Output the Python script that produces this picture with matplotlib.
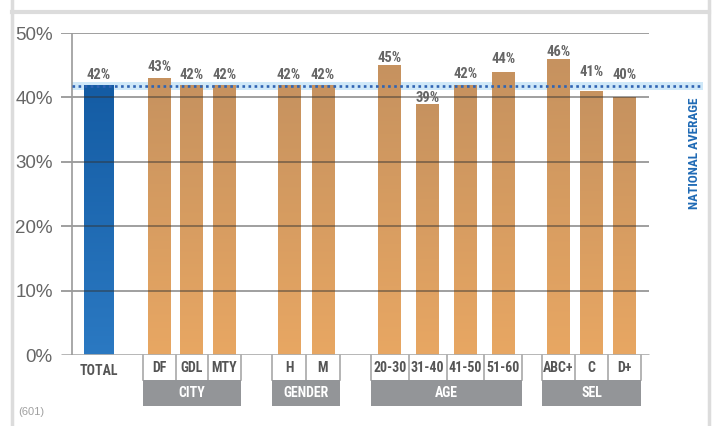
import numpy as np
import matplotlib
matplotlib.use("Agg")
import matplotlib.pyplot as plt
from matplotlib.colors import LinearSegmentedColormap
from matplotlib.patches import Rectangle
from matplotlib.lines import Line2D

# Share of respondents (%) by segment
total_label = "TOTAL"
total_value = 42
national_average = 41.7

group_names = ["CITY", "GENDER", "AGE", "SEL"]
group_cats = [
    ["DF", "GDL", "MTY"],
    ["H", "M"],
    ["20-30", "31-40", "41-50", "51-60"],
    ["ABC+", "C", "D+"],
]
group_values = [
    [43, 42, 42],
    [42, 42],
    [45, 39, 42, 44],
    [46, 41, 40],
]
sample_note = "(601)"

# layout (x in pixel-like units along the axis)
TOTAL_X = 99
TOTAL_W = 30
GROUP_START = [143, 272, 371, 542]
CELL_W = [32.5, 34, 37.75, 33]
BAR_W = 23
GRID_X0, GRID_X1 = 61, 649
# gap (px) between bar top and its value label, nudged to keep clear of the line
TOTAL_GAP = 6
LABEL_GAPS = [[7.5, 6, 6], [6, 6], [3, 1.5, 7, 9], [2.5, 14.5, 18]]

NARROW = ["Roboto Condensed", "Archivo Narrow", "Liberation Sans", "DejaVu Sans"]
plt.rcParams["font.family"] = NARROW

blue_cmap = LinearSegmentedColormap.from_list("blue", ["#2b79c2", "#145ca4"])
orange_cmap = LinearSegmentedColormap.from_list("orange", ["#e8a763", "#c6925f"])

fig = plt.figure(figsize=(7.16, 4.26), dpi=100)
ax = fig.add_axes([61 / 716, 71 / 426, 642 / 716, 322 / 426])
ax.set_xlim(61, 703)
ax.set_ylim(0, 50)
for s in ax.spines.values():
    s.set_visible(False)
ax.set_xticks([])
ax.set_yticks(range(0, 51, 10))
ax.set_yticklabels([f"{v}%" for v in range(0, 51, 10)], fontsize=13.5,
                   color="#666666", family="Liberation Sans")
ax.tick_params(axis="y", length=0, pad=6)

PX = 322 / 50.0  # pixels per percentage point


def ypx(dy):
    # vertical offset in pixels -> data units
    return dy / PX


def gradient_bar(x, w, h, cmap, gap):
    bar = ax.bar(x, h, width=w, color="none", zorder=2)[0]
    grad = np.linspace(0, 1, 256).reshape(-1, 1)
    im = ax.imshow(grad, extent=[x - w / 2, x + w / 2, 0, h], origin="lower",
                   aspect="auto", cmap=cmap, zorder=2)
    im.set_clip_path(bar)
    ax.text(x, h + ypx(gap), f"{h:.0f}%", ha="center", va="baseline",
            fontsize=10.5, fontweight="bold", color="#666666", zorder=5)


# national average band behind bars
ax.add_patch(Rectangle((72, national_average - ypx(4)), 703 - 72, ypx(8),
                       facecolor="#cfe8f8", edgecolor="none", zorder=1,
                       clip_on=False))

gradient_bar(TOTAL_X, TOTAL_W, total_value, blue_cmap, TOTAL_GAP)
ax.text(TOTAL_X, -ypx(16), total_label, ha="center", va="center", fontsize=10,
        fontweight="bold", color="#555555", clip_on=False)

for name, cats, vals, gaps, x0, cw in zip(group_names, group_cats, group_values,
                                          LABEL_GAPS, GROUP_START, CELL_W):
    for i, (c, v, g) in enumerate(zip(cats, vals, gaps)):
        cx = x0 + cw * (i + 0.5)
        gradient_bar(cx, BAR_W, v, orange_cmap, g)
        ax.text(cx, -ypx(13.5), c, ha="center", va="center", fontsize=10,
                fontweight="bold", color="#555555", clip_on=False)
    # cell separators
    for i in range(len(cats) + 1):
        ax.plot([x0 + cw * i] * 2, [0, -ypx(25)], color="#a8a8a8", lw=1.2,
                clip_on=False, zorder=3)
    gw = cw * len(cats)
    ax.add_patch(Rectangle((x0, -ypx(51)), gw, ypx(26), facecolor="#939598",
                           edgecolor="none", clip_on=False, zorder=3))
    ax.text(x0 + gw / 2, -ypx(38), name, ha="center", va="center", fontsize=10,
            fontweight="bold", color="white", clip_on=False, zorder=4)

# gridlines over the bars
ax.hlines(range(10, 51, 10), GRID_X0, GRID_X1, colors="#333333", alpha=0.55,
          lw=1.2, zorder=3)
ax.hlines(0, GRID_X0, GRID_X1, colors="#b0b0b0", lw=2, zorder=3)
ax.plot([72, 72], [0, 50], color="#9a9a9a", lw=1.2, zorder=3)

# national average dotted line
ax.plot([72, 703], [national_average] * 2, color="#2f64b4", lw=1.9,
        linestyle=(0, (1, 1.3)), zorder=4, clip_on=False)
fig.text(694 / 716, 1 - 153 / 426, "NATIONAL AVERAGE", rotation=90,
         ha="center", va="center", fontsize=9.5, fontweight="bold",
         color="#1f6ab5")

fig.text(18 / 716, 1 - 412 / 426, sample_note, ha="left", va="center",
         fontsize=8, color="#a0a0a0", family="Liberation Sans")

# light frame
frame = "#dcdcdc"
fig.add_artist(Line2D([12 / 716] * 2, [0, 1], color=frame, lw=2.5))
fig.add_artist(Line2D([709 / 716] * 2, [0, 1], color=frame, lw=2.5))
fig.add_artist(Line2D([12 / 716, 709 / 716], [1 - 12 / 426] * 2, color=frame,
                      lw=3))

fig.savefig("out.png", dpi=100)
